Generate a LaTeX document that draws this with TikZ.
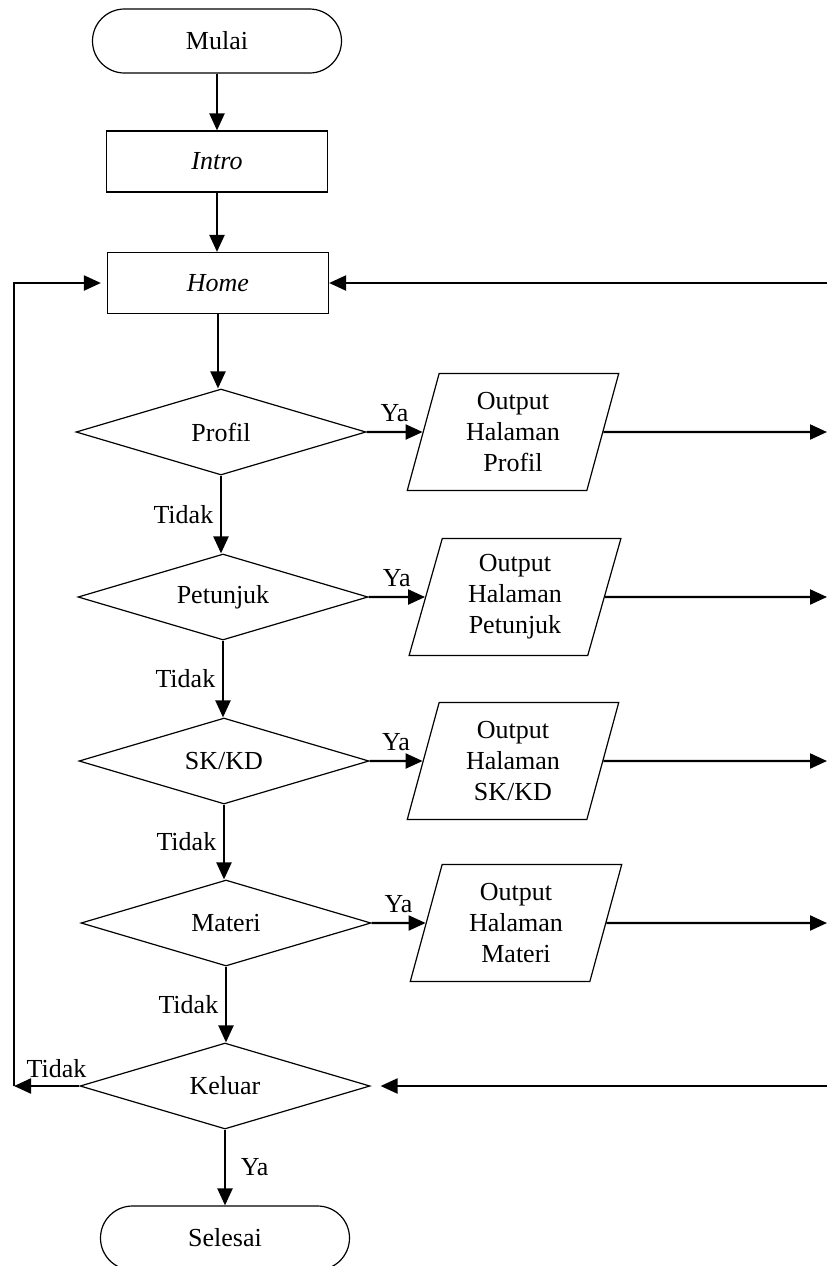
\documentclass[tikz,border=0pt]{standalone}
\usepackage{fontspec}
\setmainfont{Liberation Serif}
\usetikzlibrary{shapes.geometric,arrows.meta}
\newcommand{\flowfont}{\fontsize{13}{15.5}\selectfont}
\tikzset{
  terminal/.style={draw, line width=0.6pt, rounded corners=16pt, minimum width=124.5pt, minimum height=32pt, font=\flowfont},
  process/.style={draw, line width=0.6pt, minimum width=110.5pt, minimum height=30.5pt, font=\flowfont\itshape},
  decision/.style={draw, line width=0.6pt, diamond, aspect=3.37, minimum width=145pt, minimum height=43pt, inner sep=0pt, font=\flowfont},
  outbox/.style={draw, line width=0.6pt, trapezium, trapezium left angle=76, trapezium right angle=104, trapezium stretches=true, minimum width=106pt, minimum height=58.5pt, align=center, font=\flowfont},
  arr/.style={line width=1.1pt, -{Triangle[length=8.5pt,width=7.5pt]}},
  lbl/.style={font=\flowfont},
}
\begin{document}
\begin{tikzpicture}[x=0.5pt,y=-0.5pt]
\useasboundingbox (0,0) rectangle (827,1266);

\node[terminal] (mulai) at (217,41) {Mulai};
\node[process] (intro) at (217,161.5) {Intro};
\node[process] (home) at (218,283) {Home};
\node[decision] (profil) at (221,432) {Profil};
\node[decision] (petunjuk) at (223,597) {Petunjuk};
\node[decision] (skkd) at (224,761) {SK/KD};
\node[decision] (materi) at (226,923) {Materi};
\node[decision] (keluar) at (225,1086) {Keluar};
\node[terminal] (selesai) at (225,1238) {Selesai};

\node[outbox] (outProfil) at (513,432) {Output\\Halaman\\Profil};
\node[outbox] (outPetunjuk) at (515,597) {Output\\Halaman\\Petunjuk};
\node[outbox] (outSkkd) at (513,761) {Output\\Halaman\\SK/KD};
\node[outbox] (outMateri) at (516,923) {Output\\Halaman\\Materi};

\coordinate (rHome) at (827,283);
\coordinate (rProfil) at (827,432);
\coordinate (rPetunjuk) at (827,597);
\coordinate (rSkkd) at (827,761);
\coordinate (rMateri) at (827,923);
\coordinate (rKeluar) at (827,1086);
\coordinate (loopB) at (14,1086);

\draw[arr] (mulai) -- (intro);
\draw[arr] (intro.south) -- (intro.south |- home.north);
\draw[arr] (home.south) -- (home.south |- profil.north);
\draw[arr] (profil.south) -- node[lbl, left] {Tidak} (profil.south |- petunjuk.north);
\draw[arr] (petunjuk.south) -- node[lbl, left] {Tidak} (petunjuk.south |- skkd.north);
\draw[arr] (skkd.south) -- node[lbl, left] {Tidak} (skkd.south |- materi.north);
\draw[arr] (materi.south) -- node[lbl, left] {Tidak} (materi.south |- keluar.north);
\draw[arr] (keluar.south) -- node[lbl, right=4pt] {Ya} (keluar.south |- selesai.north);

\draw[arr] (profil.east) -- node[lbl, above=1pt] {Ya} (outProfil.west);
\draw[arr] (petunjuk.east) -- node[lbl, above=1pt] {Ya} (outPetunjuk.west);
\draw[arr] (skkd.east) -- node[lbl, above=1pt] {Ya} (outSkkd.west);
\draw[arr] (materi.east) -- node[lbl, above=1pt] {Ya} (outMateri.west);

\draw[arr] (outProfil.east) -- (rProfil);
\draw[arr] (outPetunjuk.east) -- (rPetunjuk);
\draw[arr] (outSkkd.east) -- (rSkkd);
\draw[arr] (outMateri.east) -- (rMateri);

\draw[arr] (rHome) -- (home.east);
\draw[arr, shorten >=5pt] (rKeluar) -- (keluar.east);
\draw[arr] (keluar.west) -- node[lbl, above, pos=0.35] {Tidak} (loopB);
\draw[arr, shorten >=3pt] (loopB) |- (home.west);

\end{tikzpicture}
\end{document}
